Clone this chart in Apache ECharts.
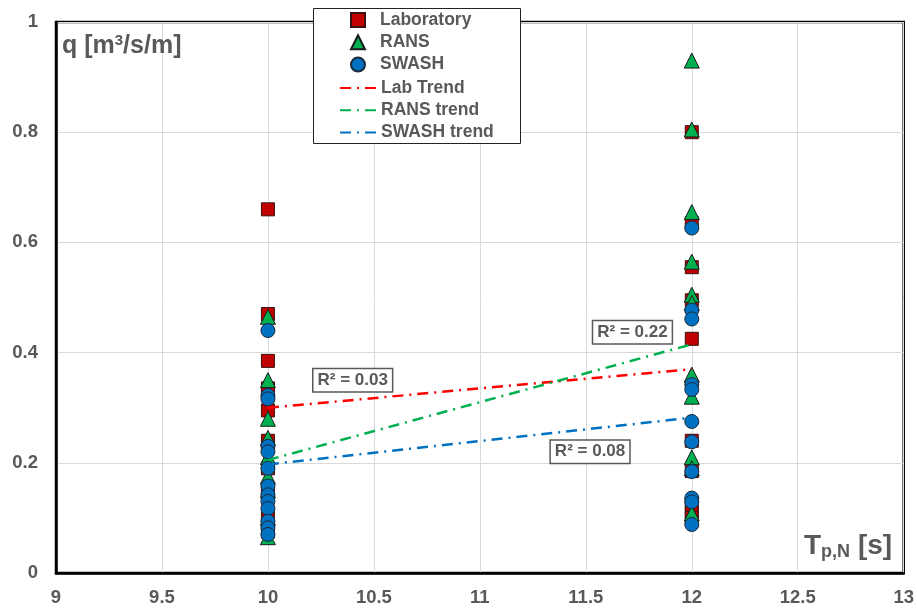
<!DOCTYPE html>
<html>
<head>
<meta charset="utf-8">
<script src="https://cdn.jsdelivr.net/npm/echarts@6/dist/echarts.min.js"></script>
<style>
  html, body { margin: 0; padding: 0; background: #fff; }
  #chart { width: 917px; height: 613px; }
</style>
</head>
<body>
<div id="chart"></div>
<script>
// wave periods (x) for each group of points
const periods = [10, 12]

// overtopping discharge q, one list per period
const labAt10 = [0.66, 0.47, 0.385, 0.335, 0.295, 0.24, 0.19, 0.145, 0.10, 0.075]
const labAt12 = [0.80, 0.635, 0.555, 0.495, 0.425, 0.24, 0.185, 0.125, 0.11, 0.10]
const ransAt10 = [0.465, 0.35, 0.28, 0.245, 0.21, 0.175, 0.15, 0.10, 0.065]
const ransAt12 = [0.93, 0.805, 0.655, 0.565, 0.505, 0.49, 0.36, 0.32, 0.21, 0.19, 0.108]
const swashAt10 = [0.44, 0.322, 0.316, 0.23, 0.22, 0.19, 0.158, 0.142, 0.13, 0.117, 0.094, 0.082, 0.07]
const swashAt12 = [0.626, 0.477, 0.461, 0.342, 0.333, 0.275, 0.238, 0.184, 0.136, 0.129, 0.088]

// linear trend values at the two periods
const labTrend = [0.30, 0.37]
const ransTrend = [0.205, 0.415]
const swashTrend = [0.197, 0.282]

const xTicks = [9, 9.5, 10, 10.5, 11, 11.5, 12, 12.5, 13]
const yTicks = [0, 0.2, 0.4, 0.6, 0.8, 1]

const pts = (a, b) => a.map(v => [periods[0], v]).concat(b.map(v => [periods[1], v]))
const line = t => t.map((v, i) => [periods[i], v])

const txt = '#595959'
const font = 'Liberation Sans, Arial, sans-serif'
const dashDot = [11, 6, 2, 6]

function r2Label (coord, text) {
  return {
    symbol: 'rect',
    symbolSize: 0,
    silent: true,
    data: [{ coord: coord, value: text }],
    label: {
      show: true,
      position: 'inside',
      formatter: '{c}',
      color: txt,
      fontFamily: font,
      fontWeight: 'bold',
      fontSize: 17,
      backgroundColor: '#fff',
      borderColor: '#595959',
      borderWidth: 1.5,
      padding: [3, 4, 2, 4]
    }
  }
}

const legendText = { color: txt, fontWeight: 'bold', fontSize: 17.5, fontFamily: font }

const option = {
  animation: false,
  backgroundColor: '#fff',
  textStyle: { fontFamily: font },
  grid: {
    left: 56, top: 22, right: 13, bottom: 40,
    show: true, borderColor: '#000', borderWidth: 2.5
  },
  legend: [
    {
      // marker entries
      orient: 'vertical',
      left: 350, top: 11,
      padding: 0,
      itemGap: 4.3,
      itemWidth: 14,
      itemHeight: 14,
      z: 10,
      textStyle: Object.assign({ padding: [0, 0, 0, 10] }, legendText),
      data: ['Laboratory', 'RANS', 'SWASH']
    },
    {
      // trend line entries
      orient: 'vertical',
      left: 339, top: 79,
      padding: 0,
      itemGap: 4.3,
      itemWidth: 36,
      itemHeight: 14,
      z: 10,
      textStyle: legendText,
      data: [
        { name: 'Lab Trend', itemStyle: { opacity: 0 } },
        { name: 'RANS trend', itemStyle: { opacity: 0 } },
        { name: 'SWASH trend', itemStyle: { opacity: 0 } }
      ]
    }
  ],
  xAxis: {
    type: 'value', min: 9, max: 13, interval: 0.5,
    axisLine: { show: true, lineStyle: { color: '#000', width: 2.5 } },
    axisTick: { show: false },
    splitLine: { show: true, lineStyle: { color: '#d9d9d9', width: 1 } },
    axisLabel: {
      color: txt, fontWeight: 'bold', fontSize: 18.5, margin: 15,
      formatter: v => xTicks.includes(v) ? String(v) : ''
    }
  },
  yAxis: {
    type: 'value', min: 0, max: 1, interval: 0.2,
    axisLine: { show: true, lineStyle: { color: '#000', width: 2.5 } },
    axisTick: { show: false },
    splitLine: { show: true, lineStyle: { color: '#d9d9d9', width: 1 } },
    axisLabel: {
      color: txt, fontWeight: 'bold', fontSize: 18.5, margin: 18,
      formatter: v => yTicks.some(t => Math.abs(t - v) < 1e-9) ? String(+v.toFixed(1)) : ''
    }
  },
  graphic: [
    {
      type: 'rect', z: 9,
      shape: { x: 313.5, y: 8.5, width: 207, height: 135 },
      style: { fill: '#fff', stroke: '#222', lineWidth: 1 }
    },
    {
      type: 'text', left: 62, top: 33, z: 100,
      style: {
        text: '{a|q [m}{s|3}{a|/s/m]}',
        rich: {
          a: { fontSize: 25, fontWeight: 'bold', fill: txt, fontFamily: font },
          s: { fontSize: 15, fontWeight: 'bold', fill: txt, fontFamily: font, verticalAlign: 'top', padding: [0, 0, 12, 0] }
        }
      }
    },
    {
      type: 'text', left: 804, top: 532, z: 100,
      style: {
        text: '{a|T}{s|p,N}{a| [s]}',
        rich: {
          a: { fontSize: 28, fontWeight: 'bold', fill: txt, fontFamily: font },
          s: { fontSize: 18, fontWeight: 'bold', fill: txt, fontFamily: font, padding: [13, 0, 0, 0] }
        }
      }
    }
  ],
  series: [
    {
      name: 'Laboratory', type: 'scatter', symbol: 'rect', symbolSize: 13, z: 2,
      itemStyle: { color: '#C00000', borderColor: '#3a1010', borderWidth: 1, opacity: 1 },
      data: pts(labAt10, labAt12)
    },
    {
      name: 'RANS', type: 'scatter', symbol: 'triangle', symbolSize: 15, z: 3,
      itemStyle: { color: '#00B050', borderColor: '#1a1a1a', borderWidth: 1, opacity: 1 },
      data: pts(ransAt10, ransAt12)
    },
    {
      name: 'SWASH', type: 'scatter', symbol: 'circle', symbolSize: 14, z: 4,
      itemStyle: { color: '#0070C0', borderColor: '#1a2a3a', borderWidth: 1, opacity: 1 },
      data: pts(swashAt10, swashAt12)
    },
    {
      name: 'Lab Trend', type: 'line', symbol: 'none', z: 5,
      itemStyle: { color: '#FF0000' },
      lineStyle: { color: '#FF0000', width: 2.5, type: dashDot },
      data: line(labTrend),
      markPoint: r2Label([10.4, 0.35], 'R² = 0.03')
    },
    {
      name: 'RANS trend', type: 'line', symbol: 'none', z: 5,
      itemStyle: { color: '#00B050' },
      lineStyle: { color: '#00B050', width: 2.5, type: dashDot },
      data: line(ransTrend),
      markPoint: r2Label([11.72, 0.437], 'R² = 0.22')
    },
    {
      name: 'SWASH trend', type: 'line', symbol: 'none', z: 5,
      itemStyle: { color: '#0070C0' },
      lineStyle: { color: '#0070C0', width: 2.5, type: dashDot },
      data: line(swashTrend),
      markPoint: r2Label([11.52, 0.22], 'R² = 0.08')
    }
  ]
}

const chart = echarts.init(document.getElementById('chart'))
chart.setOption(option)
</script>
</body>
</html>
